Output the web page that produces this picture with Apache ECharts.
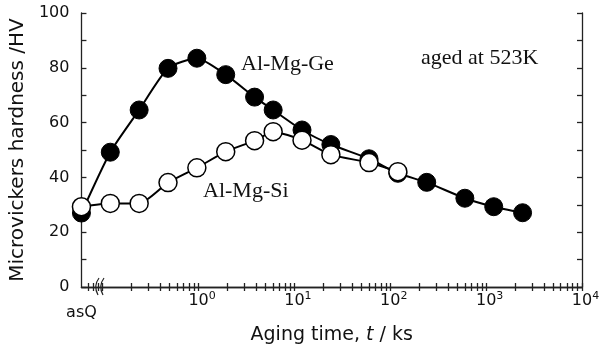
<!DOCTYPE html>
<html>
<head>
<meta charset="utf-8">
<script src="https://cdn.jsdelivr.net/npm/echarts@6/dist/echarts.min.js"></script>
<style>html,body{margin:0;padding:0;background:#fff}#c{width:609px;height:355px}</style>
</head>
<body>
<div id="c"></div>
<script>
// aging time in ks (first value = as-quenched, placed at the axis start)
var asQTime = 0.06;
var timesGe = [0.06, 0.12, 0.24, 0.48, 0.96, 1.92, 3.84, 6, 12, 24, 60, 120, 240, 600, 1200, 2400];
var hvGe    = [27, 49.2, 64.6, 79.8, 83.5, 77.5, 69.3, 64.6, 57.3, 52, 46.8, 41.5, 38.2, 32.4, 29.3, 27.1];
var timesSi = [0.06, 0.12, 0.24, 0.48, 0.96, 1.92, 3.84, 6, 12, 24, 60, 120];
var hvSi    = [29.3, 30.5, 30.5, 38.1, 43.5, 49.4, 53.4, 56.7, 53.6, 48.3, 45.4, 42.1];
var xMin = 0.06, xMax = 10000;
var xLabelValues = [0.06, 1, 10, 100, 1000, 10000];
var yTickValues = [0, 10, 20, 30, 40, 50, 60, 70, 80, 90, 100];

var xTickValues = [];
[0.07, 0.08, 0.09].forEach(function (v) { xTickValues.push(v); });
for (var e = -1; e < 4; e++) {
  for (var k = 1; k < 10; k++) xTickValues.push(+(k * Math.pow(10, e)).toPrecision(3));
}
xTickValues.push(10000);

function pairs(t, v) { return t.map(function (x, i) { return [x, v[i]]; }); }

var axisLineStyle = { color: '#222', width: 1.3 };
var sans = 'DejaVu Sans';

var chart = echarts.init(document.getElementById('c'), null, { renderer: 'canvas' });
chart.setOption({
  animation: false,
  backgroundColor: '#fff',
  grid: { left: 80, right: 27, top: 13, bottom: 68 },
  xAxis: [{
    type: 'log', min: xMin, max: xMax, position: 'bottom',
    name: 'Aging time, {i|t} / ks', nameLocation: 'middle', nameGap: 34,
    nameTextStyle: { fontFamily: sans, fontSize: 19, color: '#111',
      rich: { i: { fontFamily: sans, fontStyle: 'italic', fontSize: 19, color: '#111' } } },
    axisLine: { show: true, lineStyle: axisLineStyle },
    axisTick: { show: true, inside: true, length: 4, lineStyle: axisLineStyle, customValues: xTickValues },
    splitLine: { show: false },
    axisLabel: {
      customValues: xLabelValues, margin: 4, color: '#111', fontFamily: sans,
      formatter: function (v) {
        if (v < 0.1) return '{q|asQ}';
        return '{p| }{b|10}{s|' + Math.round(Math.log10(v)) + '}';
      },
      rich: {
        q: { fontFamily: sans, fontSize: 16, color: '#111', padding: [14, 0, 0, 0] },
        p: { width: 7, fontSize: 11 },
        b: { fontFamily: sans, fontSize: 16, color: '#111', lineHeight: 18, verticalAlign: 'bottom' },
        s: { fontFamily: sans, fontSize: 11, color: '#111', lineHeight: 11, verticalAlign: 'top' }
      }
    }
  }, {
    type: 'log', min: xMin, max: xMax, position: 'top',
    axisLine: { show: true, lineStyle: axisLineStyle },
    axisTick: { show: true, inside: true, length: 4, lineStyle: axisLineStyle, customValues: xTickValues },
    axisLabel: { show: false },
    splitLine: { show: false }
  }],
  yAxis: [{
    type: 'value', min: 0, max: 100, interval: 20, position: 'left',
    name: 'Microvickers hardness /HV', nameLocation: 'middle', nameGap: 46,
    nameTextStyle: { fontFamily: sans, fontSize: 20, color: '#111' },
    axisLine: { show: true, lineStyle: axisLineStyle },
    axisTick: { show: true, inside: true, length: 5, lineStyle: axisLineStyle, customValues: yTickValues },
    axisLabel: { margin: 12, fontFamily: sans, fontSize: 16, color: '#111' },
    splitLine: { show: false }
  }, {
    type: 'value', min: 0, max: 100, interval: 10, position: 'right',
    axisLine: { show: true, lineStyle: axisLineStyle },
    axisTick: { show: true, inside: true, length: 5, lineStyle: axisLineStyle },
    axisLabel: { show: false },
    splitLine: { show: false }
  }],
  series: [{
    name: 'Al-Mg-Ge', type: 'line', data: pairs(timesGe, hvGe), clip: false,
    smooth: 0.2, symbol: 'circle', symbolSize: 18,
    lineStyle: { color: '#000', width: 2 },
    itemStyle: { color: '#000', borderColor: '#000', borderWidth: 1 }
  }, {
    name: 'Al-Mg-Si', type: 'line', data: pairs(timesSi, hvSi), clip: false,
    smooth: 0.2, symbol: 'circle', symbolSize: 18,
    lineStyle: { color: '#000', width: 2 },
    itemStyle: { color: '#fff', borderColor: '#000', borderWidth: 1.5 }
  }],
  graphic: [
    { type: 'text', left: 241, top: 53, style: { text: 'Al-Mg-Ge', font: '22px "Liberation Serif"', fill: '#111' } },
    { type: 'text', left: 421, top: 47, style: { text: 'aged at 523K', font: '22px "Liberation Serif"', fill: '#111' } },
    { type: 'text', left: 203, top: 180, style: { text: 'Al-Mg-Si', font: '22px "Liberation Serif"', fill: '#111' } },
    { type: 'bezierCurve', shape: { x1: 99, y1: 278, cpx1: 93, cpy1: 286, x2: 98, y2: 295 }, style: { stroke: '#222', lineWidth: 1.2, fill: null } },
    { type: 'bezierCurve', shape: { x1: 104, y1: 278, cpx1: 98, cpy1: 286, x2: 103, y2: 295 }, style: { stroke: '#222', lineWidth: 1.2, fill: null } }
  ]
});
</script>
</body>
</html>
